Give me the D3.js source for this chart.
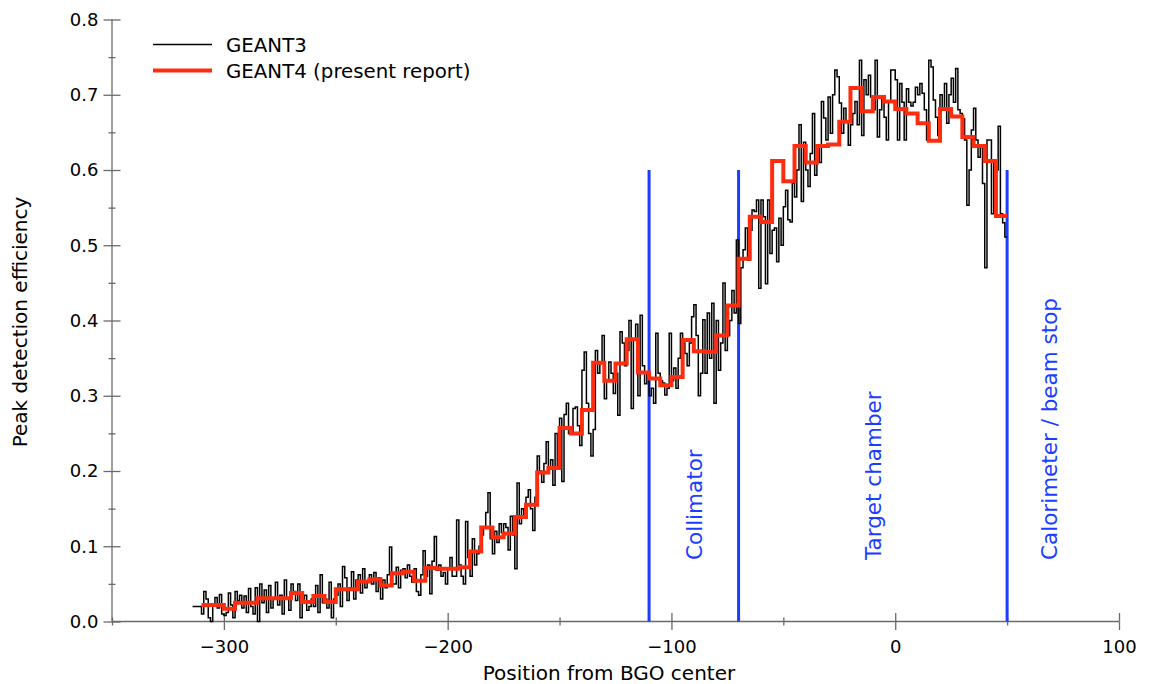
<!DOCTYPE html>
<html>
<head>
<meta charset="utf-8">
<script src="https://cdn.jsdelivr.net/npm/d3@7"></script>
<style>
  html, body { margin: 0; padding: 0; background: #fff; }
  svg { display: block; font-family: "DejaVu Sans", Verdana, sans-serif; }
</style>
</head>
<body>
<svg id="chart" width="1149" height="684"></svg>
<script>
// ---------------- DATA ----------------
const seriesNames = ["GEANT3", "GEANT4 (present report)"];

// GEANT3: 1-unit bins starting at -314
const geant3Start = -314;
const geant3BinWidth = 1;
const geant3Values = [
  0.020, 0.020, 0.020, 0.020, 0.010, 0.040, 0.030, 0.005, 0.000, 0.022,
  0.032, 0.018, 0.036, 0.010, 0.008, 0.012, 0.038, 0.022, 0.005, 0.040,
  0.028, 0.035, 0.018, 0.034, 0.012, 0.044, 0.020, 0.010, 0.045, 0.000,
  0.050, 0.025, 0.042, 0.012, 0.048, 0.018, 0.030, 0.052, 0.022, 0.035,
  0.010, 0.055, 0.030, 0.015, 0.050, 0.040, 0.028, 0.050, 0.005, 0.030,
  0.035, 0.015, 0.020, 0.030, 0.020, 0.048, 0.012, 0.062, 0.025, 0.030,
  0.018, 0.052, 0.005, 0.030, 0.035, 0.050, 0.020, 0.073, 0.058, 0.028,
  0.045, 0.066, 0.030, 0.055, 0.062, 0.038, 0.070, 0.045, 0.052, 0.062,
  0.050, 0.065, 0.040, 0.058, 0.030, 0.055, 0.045, 0.062, 0.099, 0.050,
  0.050, 0.072, 0.045, 0.068, 0.070, 0.058, 0.075, 0.060, 0.052, 0.070,
  0.040, 0.035, 0.062, 0.094, 0.060, 0.075, 0.037, 0.080, 0.113, 0.068,
  0.075, 0.060, 0.065, 0.050, 0.070, 0.085, 0.060, 0.060, 0.135, 0.075,
  0.060, 0.050, 0.133, 0.085, 0.060, 0.110, 0.075, 0.090, 0.100, 0.115,
  0.126, 0.145, 0.171, 0.110, 0.090, 0.120, 0.105, 0.130, 0.118, 0.130,
  0.125, 0.095, 0.140, 0.115, 0.070, 0.184, 0.130, 0.150, 0.140, 0.165,
  0.175, 0.150, 0.121, 0.165, 0.220, 0.200, 0.185, 0.210, 0.239, 0.205,
  0.215, 0.181, 0.250, 0.206, 0.270, 0.186, 0.275, 0.290, 0.250, 0.250,
  0.283, 0.285, 0.260, 0.234, 0.334, 0.358, 0.290, 0.250, 0.220, 0.255,
  0.360, 0.330, 0.343, 0.380, 0.296, 0.320, 0.345, 0.330, 0.303, 0.330,
  0.274, 0.385, 0.370, 0.340, 0.360, 0.400, 0.283, 0.374, 0.395, 0.300,
  0.407, 0.340, 0.316, 0.330, 0.300, 0.310, 0.290, 0.383, 0.330, 0.320,
  0.317, 0.301, 0.310, 0.383, 0.320, 0.337, 0.310, 0.350, 0.383, 0.370,
  0.356, 0.340, 0.370, 0.405, 0.421, 0.380, 0.300, 0.330, 0.401, 0.330,
  0.410, 0.350, 0.423, 0.290, 0.400, 0.334, 0.370, 0.450, 0.360, 0.380,
  0.400, 0.440, 0.410, 0.507, 0.396, 0.470, 0.494, 0.523, 0.480, 0.520,
  0.547, 0.545, 0.560, 0.443, 0.560, 0.538, 0.449, 0.560, 0.489, 0.520,
  0.523, 0.478, 0.536, 0.500, 0.551, 0.573, 0.534, 0.531, 0.582, 0.564,
  0.600, 0.660, 0.558, 0.637, 0.600, 0.578, 0.622, 0.675, 0.593, 0.633,
  0.610, 0.691, 0.669, 0.640, 0.697, 0.649, 0.700, 0.733, 0.724, 0.689,
  0.649, 0.682, 0.665, 0.633, 0.660, 0.675, 0.691, 0.660, 0.746, 0.646,
  0.720, 0.700, 0.726, 0.697, 0.680, 0.746, 0.644, 0.680, 0.697, 0.670,
  0.640, 0.690, 0.733, 0.733, 0.720, 0.640, 0.715, 0.690, 0.640, 0.708,
  0.690, 0.685, 0.690, 0.710, 0.700, 0.715, 0.702, 0.680, 0.640, 0.746,
  0.737, 0.693, 0.670, 0.646, 0.700, 0.680, 0.715, 0.662, 0.700, 0.722,
  0.690, 0.735, 0.680, 0.675, 0.668, 0.640, 0.553, 0.600, 0.653, 0.682,
  0.640, 0.617, 0.630, 0.582, 0.470, 0.640, 0.640, 0.542, 0.610, 0.600,
  0.658, 0.542, 0.530, 0.511
];

// GEANT4: 5-unit bins starting at -310
const geant4Start = -310;
const geant4BinWidth = 5;
const geant4Values = [
  0.022, 0.022, 0.017, 0.025, 0.025, 0.031, 0.031, 0.031, 0.038, 0.026,
  0.034, 0.026, 0.043, 0.043, 0.053, 0.056, 0.048, 0.064, 0.066, 0.054,
  0.071, 0.070, 0.070, 0.072, 0.093, 0.125, 0.112, 0.117, 0.139, 0.155,
  0.198, 0.204, 0.257, 0.250, 0.281, 0.344, 0.320, 0.343, 0.375, 0.331,
  0.323, 0.314, 0.325, 0.374, 0.359, 0.358, 0.380, 0.420, 0.482, 0.538,
  0.531, 0.612, 0.585, 0.632, 0.610, 0.632, 0.634, 0.664, 0.709, 0.678,
  0.697, 0.691, 0.681, 0.675, 0.662, 0.639, 0.681, 0.671, 0.644, 0.632,
  0.612, 0.539
];

// Region boundaries (vertical blue lines) and region names
const boundaryPositions = [-110, -70, 50];
const boundaryTop = 0.6;
const regionNames = ["Collimator", "Target chamber", "Calorimeter / beam stop"];

// Axis ticks
const xMajorTicks = [-300, -200, -100, 0, 100];
const xMinorTicks = [-350, -250, -150, -50, 50];
const yMajorTicks = [0.0, 0.1, 0.2, 0.3, 0.4, 0.5, 0.6, 0.7, 0.8];
const yMinorTicks = [0.05, 0.15, 0.25, 0.35, 0.45, 0.55, 0.65, 0.75];

const xTitle = "Position from BGO center";
const yTitle = "Peak detection efficiency";

// ---------------- LAYOUT ----------------
const plot = { left: 112, right: 1119, top: 19.5, bottom: 621.5 };
const regionLabelAnchor = [-90, -10, 68.5];  // label centres (data units)
const colors = { g3: "#000000", g4: "#ff2d0f", blue: "#1b3dff", axis: "#6a6a6a" };

const svg = d3.select("#chart");
const x = d3.scaleLinear().domain([-350, 100]).range([plot.left, plot.right]);
const y = d3.scaleLinear().domain([0, 0.8]).range([plot.bottom, plot.top]);

// ---------------- AXES ----------------
const fmtY = d3.format(".1f");
const fmtX = d3.format("d");

function styleAxis(g) {
  g.selectAll("path.domain").attr("stroke", colors.axis).attr("stroke-width", 1.3);
  g.selectAll(".tick line").attr("stroke", colors.axis).attr("stroke-width", 1.3);
  g.selectAll(".tick text").attr("fill", "#000").style("font-size", "18px")
    .style("font-family", "'DejaVu Sans', Verdana, sans-serif");
}

const gxB = svg.append("g").attr("transform", `translate(0,${plot.bottom})`)
  .call(d3.axisBottom(x).tickValues(xMajorTicks).tickSize(8.5).tickPadding(10).tickFormat(fmtX));
const gxT = svg.append("g").attr("transform", `translate(0,${plot.bottom})`)
  .call(d3.axisTop(x).tickValues(xMajorTicks).tickSize(8.5).tickFormat(""));
const gxMb = svg.append("g").attr("transform", `translate(0,${plot.bottom})`)
  .call(d3.axisBottom(x).tickValues(xMinorTicks).tickSize(4).tickFormat(""));
const gxMt = svg.append("g").attr("transform", `translate(0,${plot.bottom})`)
  .call(d3.axisTop(x).tickValues(xMinorTicks).tickSize(4).tickFormat(""));
[gxB, gxT, gxMb, gxMt].forEach(styleAxis);
[gxT, gxMb, gxMt].forEach(g => g.select("path.domain").remove());
gxB.select("path.domain").attr("d", `M${plot.left},0H${plot.right}`);

const gyL = svg.append("g").attr("transform", `translate(${plot.left},0)`)
  .call(d3.axisLeft(y).tickValues(yMajorTicks).tickSize(8.5).tickPadding(5).tickFormat(fmtY));
const gyR = svg.append("g").attr("transform", `translate(${plot.left},0)`)
  .call(d3.axisRight(y).tickValues(yMajorTicks).tickSize(8.5).tickFormat(""));
const gyMl = svg.append("g").attr("transform", `translate(${plot.left},0)`)
  .call(d3.axisLeft(y).tickValues(yMinorTicks).tickSize(3.5).tickFormat(""));
const gyMr = svg.append("g").attr("transform", `translate(${plot.left},0)`)
  .call(d3.axisRight(y).tickValues(yMinorTicks).tickSize(3.5).tickFormat(""));
[gyL, gyR, gyMl, gyMr].forEach(styleAxis);
[gyR, gyMl, gyMr].forEach(g => g.select("path.domain").remove());
gyL.select("path.domain").attr("d", `M0,${plot.bottom}V${plot.top}`);

// Axis titles
svg.append("text").attr("x", 609).attr("y", 680).attr("text-anchor", "middle")
  .style("font-size", "20px").attr("fill", "#000").text(xTitle);
svg.append("text").attr("transform", `translate(27,${322}) rotate(-90)`)
  .attr("text-anchor", "middle").style("font-size", "20px").attr("fill", "#000").text(yTitle);

// ---------------- REGION LINES ----------------
svg.append("g").selectAll("line").data(boundaryPositions).join("line")
  .attr("x1", d => x(d)).attr("x2", d => x(d))
  .attr("y1", y(0)).attr("y2", y(boundaryTop))
  .attr("stroke", colors.blue).attr("stroke-width", 3);

svg.append("g").selectAll("text").data(regionNames).join("text")
  .attr("transform", (d, i) => `translate(${x(regionLabelAnchor[i]) + 8.5},560) rotate(-90)`)
  .attr("text-anchor", "start").style("font-size", "21.5px")
  .attr("fill", colors.blue).text(d => d);

// ---------------- HISTOGRAMS ----------------
function stepPoints(start, width, values) {
  const pts = values.map((v, i) => [start + i * width, v]);
  pts.push([start + values.length * width, values[values.length - 1]]);
  return pts;
}
const line = d3.line().x(d => x(d[0])).y(d => y(d[1])).curve(d3.curveStepAfter);

svg.append("path").datum(stepPoints(geant3Start, geant3BinWidth, geant3Values))
  .attr("d", line).attr("fill", "none").attr("stroke", colors.g3)
  .attr("stroke-width", 1.5).attr("stroke-linejoin", "miter");

svg.append("path").datum(stepPoints(geant4Start, geant4BinWidth, geant4Values))
  .attr("d", line).attr("fill", "none").attr("stroke", colors.g4)
  .attr("stroke-width", 4).attr("stroke-linejoin", "miter");

// ---------------- LEGEND ----------------
const legend = svg.append("g");
const legendRows = [
  { name: seriesNames[0], color: colors.g3, width: 1.5, y: 44.5 },
  { name: seriesNames[1], color: colors.g4, width: 4, y: 70.5 }
];
legendRows.forEach(r => {
  legend.append("line").attr("x1", 153).attr("x2", 212).attr("y1", r.y).attr("y2", r.y)
    .attr("stroke", r.color).attr("stroke-width", r.width);
  legend.append("text").attr("x", 226).attr("y", r.y + 7).style("font-size", "19.8px")
    .attr("fill", "#000").text(r.name);
});
</script>
</body>
</html>
